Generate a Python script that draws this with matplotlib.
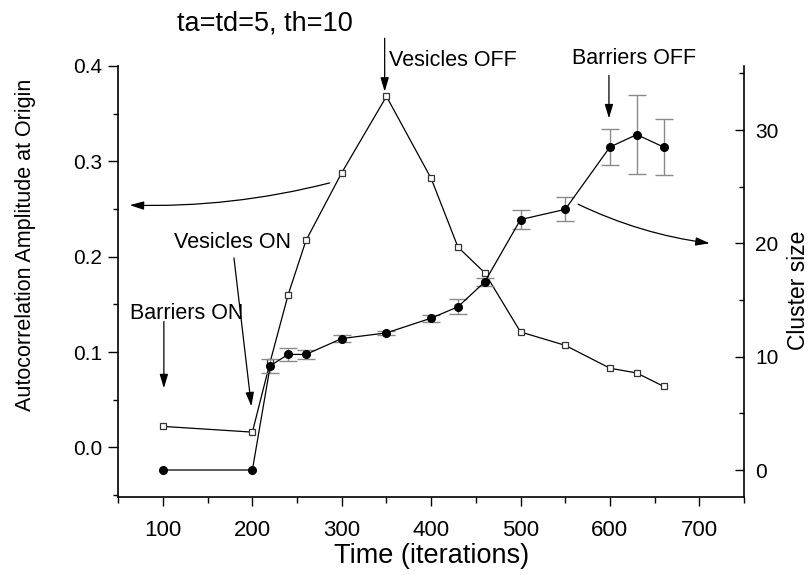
import matplotlib
matplotlib.use('Agg')
import matplotlib.pyplot as plt
from matplotlib import font_manager
from matplotlib.ticker import MultipleLocator

# ---- data ----
time = [100, 200, 220, 240, 260, 300, 350, 400, 430, 460, 500, 550, 600, 630, 660]
autocorr = [0.022, 0.016, 0.090, 0.160, 0.217, 0.288, 0.368, 0.282, 0.210, 0.183,
            0.121, 0.107, 0.083, 0.078, 0.064]
cluster = [0.0, 0.0, 9.2, 10.2, 10.2, 11.6, 12.1, 13.4, 14.4, 16.6, 22.1, 23.0,
           28.5, 29.6, 28.5]
cluster_err = [0.0, 0.0, 0.63, 0.56, 0.37, 0.34, 0.20, 0.32, 0.66, 0.34, 0.85, 1.07,
               1.62, 3.5, 2.5]

x_ticks = [100, 200, 300, 400, 500, 600, 700]
left_ticks = [0.0, 0.1, 0.2, 0.3, 0.4]
left_tick_labels = ['0.0', '0.1', '0.2', '0.3', '0.4']
right_ticks = [0, 10, 20, 30]

title = 'ta=td=5, th=10'
xlabel = 'Time (iterations)'
ylabel_left = 'Autocorrelation Amplitude at Origin'
ylabel_right = 'Cluster size'

# ---- fonts ----
names = {f.name for f in font_manager.fontManager.ttflist}
base = 'Liberation Sans' if 'Liberation Sans' in names else 'DejaVu Sans'
narrow = 'Liberation Sans Narrow' if 'Liberation Sans Narrow' in names else base
plt.rcParams['font.family'] = [base, 'DejaVu Sans']

fig = plt.figure(figsize=(8.08, 5.75), dpi=100)
ax = fig.add_axes([0.1464, 0.1357, 0.7744, 0.7497])
ax2 = ax.twinx()

# ---- data marks ----
ax.plot(time, autocorr, color='black', lw=0.9, marker='s', ms=5, mfc='white',
        mec='#333333', mew=0.9, zorder=3)
ax2.plot(time, cluster, color='black', lw=0.9, marker='o', ms=5.5, mfc='black',
         mec='black', zorder=3)
err_t = [t for t, e in zip(time, cluster_err) if e > 0]
err_c = [c for c, e in zip(cluster, cluster_err) if e > 0]
err_e = [e for e in cluster_err if e > 0]
ax2.errorbar(err_t, err_c, yerr=err_e, fmt='none', ecolor='#8a8a8a', elinewidth=1,
             capsize=6.8, capthick=1, zorder=2)

# ---- axes ----
ax.set_xlim(50, 750)
ax.set_ylim(-0.052, 0.40)
ax2.set_ylim(-2.38, 35.66)

ax.set_xticks(x_ticks, [str(t) for t in x_ticks], fontfamily=narrow)
ax.xaxis.set_minor_locator(MultipleLocator(50))
ax.set_yticks(left_ticks, left_tick_labels)
ax.yaxis.set_minor_locator(MultipleLocator(0.05))
ax2.set_yticks(right_ticks)
ax2.yaxis.set_minor_locator(MultipleLocator(5))

ax.tick_params(axis='x', which='major', direction='out', length=6.5, width=1,
               pad=10, labelsize=16)
ax.tick_params(axis='x', which='minor', direction='out', length=4, width=1)
ax.tick_params(axis='y', which='major', direction='out', length=7, width=1,
               pad=4.5, labelsize=15)
ax.tick_params(axis='y', which='minor', direction='out', length=3.5, width=1)
ax2.tick_params(axis='y', which='major', direction='in', length=6.5, width=1,
                pad=8, labelsize=15)
ax2.tick_params(axis='y', which='minor', direction='in', length=3.5, width=1)

for a in (ax, ax2):
    a.spines['top'].set_visible(False)
    for s in ('left', 'right', 'bottom'):
        a.spines[s].set_linewidth(1.2)
ax.spines['right'].set_visible(False)
ax2.spines['left'].set_visible(False)
ax2.spines['bottom'].set_visible(False)

ax.set_xlabel(xlabel, fontsize=19.5, va='center', ha='center')
ax.xaxis.set_label_coords(0.5014, -0.138)
ax.set_ylabel(ylabel_left, fontsize=15.5, va='center', ha='center')
ax.yaxis.set_label_coords(-0.1475, 0.585)
ax2.set_ylabel(ylabel_right, fontsize=16.5, va='center', ha='center')
ax2.yaxis.set_label_coords(1.0863, 0.48)

fig.text(265 / 808, 1 - 24 / 575, title, ha='center', va='center', fontsize=19.5)

# ---- annotations (left-axis data coordinates) ----
head = '-|>,head_length=0.6,head_width=0.18'


def arrow(start, tip, rad=0.0):
    ax.annotate('', xy=tip, xytext=start, annotation_clip=False,
                arrowprops=dict(arrowstyle=head, color='black', lw=0.9,
                                shrinkA=0, shrinkB=0, mutation_scale=14,
                                connectionstyle=f'arc3,rad={rad}'))


ax.text(126.5, 0.1407, 'Barriers ON', ha='center', va='center', fontsize=15.5)
arrow((101, 0.132), (101, 0.062))

ax.text(178, 0.2144, 'Vesicles ON', ha='center', va='center', fontsize=15.5)
arrow((179.4, 0.1986), (198.9, 0.043))

ax.text(353.4, 0.406, 'Vesicles OFF', ha='left', va='center', fontsize=15.5,
        clip_on=False)
arrow((348, 0.429), (348, 0.373))

ax.text(627, 0.408, 'Barriers OFF', ha='center', va='center', fontsize=15.5,
        clip_on=False)
arrow((598.9, 0.390), (598.9, 0.345))

arrow((286.5, 0.2773), (62.8, 0.254), rad=-0.07)
arrow((564.3, 0.255), (711.6, 0.214), rad=0.08)

fig.savefig('out.png', dpi=100)
